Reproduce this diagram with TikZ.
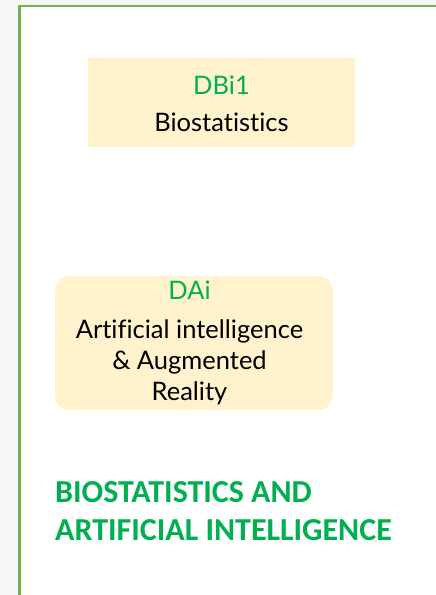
\documentclass[tikz,border=0pt]{standalone}
\usepackage{fontspec}
\newfontfamily\latofont[Ligatures=NoCommon]{Lato}
\newfontfamily\carlitofont{Carlito}
\usetikzlibrary{positioning}
\definecolor{framegreen}{HTML}{74B04B}
\definecolor{labelgreen}{HTML}{00B050}
\definecolor{boxfill}{HTML}{FFF2CC}
\definecolor{outgrey}{HTML}{F7F7F7}
\tikzset{
  unitbox/.style={fill=boxfill, draw=none, inner sep=0pt},
  unittext/.style={align=center, inner sep=0pt, font=\latofont\fontsize{25.5}{31}\selectfont},
  titletext/.style={anchor=base west, inner sep=0pt, text=labelgreen, font=\carlitofont\bfseries\fontsize{32}{38}\selectfont}
}

\begin{document}
\begin{tikzpicture}[x=1pt,y=-1pt]
  \fill[outgrey] (0,0) rectangle (436,595);
  \useasboundingbox (0,0) rectangle (436,595);
  \clip (0,0) rectangle (436,595);
  \fill[white] (19.5,6.2) rectangle (440,600);
  \draw[framegreen, line width=2.5pt] (19.5,600) |- (440,6.2);
  % units
  \node[unitbox, minimum width=267pt, minimum height=89pt] (dbi) at (221.5,102.5) {};
  \node[unittext] (dbitext) at (221.5,104) {\textcolor{labelgreen}{DBi1}\\[6.5pt]Biostatistics};
  \node[unitbox, rounded corners=15pt, minimum width=278pt, minimum height=134pt] (dai) at (194,343) {};
  \node[unittext] (daitext) at (189.5,343) {\textcolor{labelgreen}{DAi}\\[8pt]Artificial intelligence\\\& Augmented\\Reality};
  % title
  \node[titletext] (title1) at (55,502) {BIOSTATISTICS AND};
  \node[titletext] (title2) at ([yshift=-38pt]title1.base west) {ARTIFICIAL INTELLIGENCE};
\end{tikzpicture}
\end{document}
